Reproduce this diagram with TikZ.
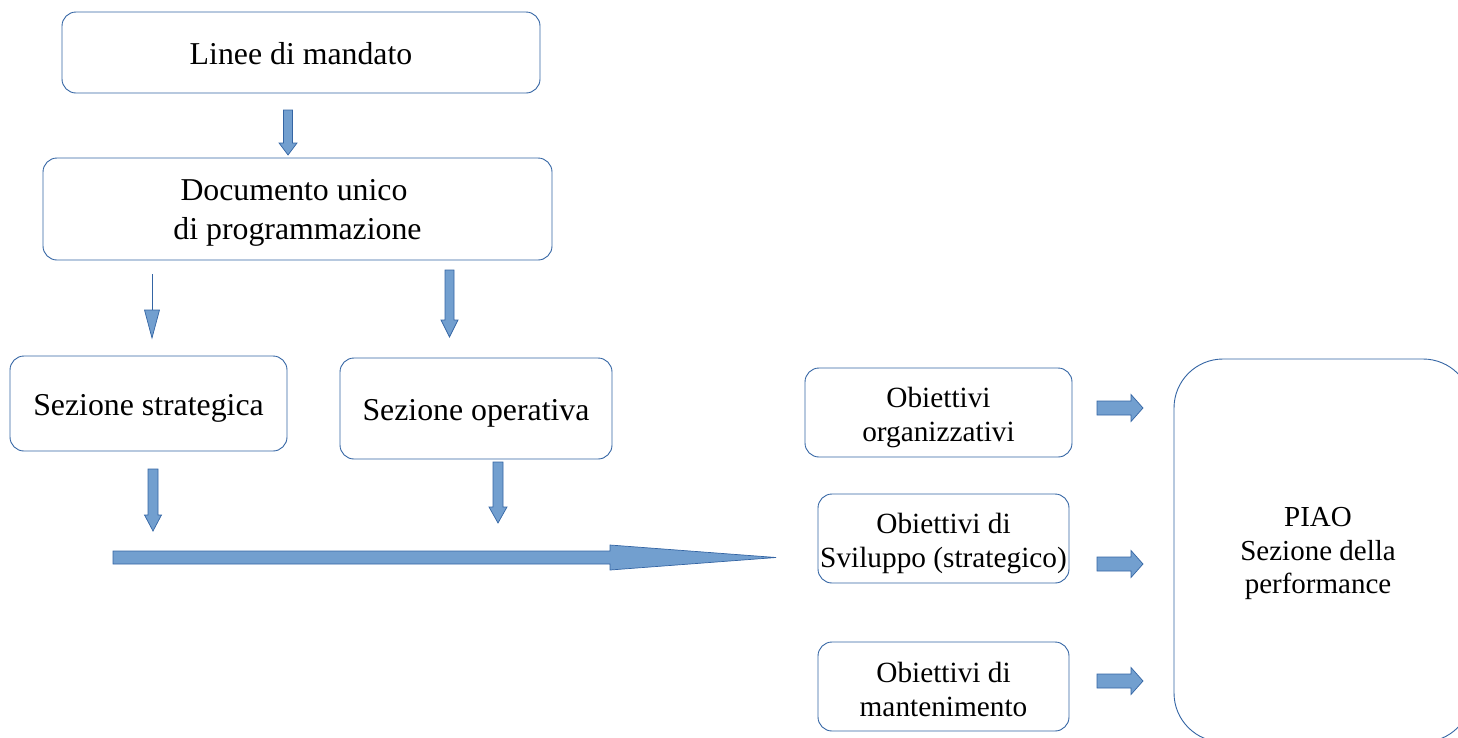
\documentclass[tikz,border=0pt]{standalone}
\usepackage{fontspec}
\setmainfont{Liberation Serif}
\definecolor{boxline}{HTML}{3465A4}
\definecolor{arrfill}{HTML}{729FCF}
\tikzset{
  box/.style={draw=boxline, line width=0.9pt, rounded corners=14pt, inner sep=0pt, fill=white},
  txt/.style={align=center, inner sep=0pt},
  bigtxt/.style={txt, font=\fontsize{31.8}{39}\selectfont},
  midtxt/.style={txt, font=\fontsize{29.3}{34}\selectfont},
  piaotxt/.style={txt, font=\fontsize{29}{33.5}\selectfont},
  barrow/.style={draw=boxline, line width=0.7pt, fill=arrfill, line join=miter},
}
\newcommand{\varrow}[6]{% x, ytop, yheadbase, ytip, shaft half width, head half width
  \draw[barrow] ({#1-#5},#2) -- ({#1+#5},#2) -- ({#1+#5},#3) -- ({#1+#6},#3) -- (#1,#4) -- ({#1-#6},#3) -- ({#1-#5},#3) -- cycle;}
\newcommand{\harrow}[6]{% y, xleft, xheadbase, xtip, shaft half width, head half width
  \draw[barrow] (#2,{#1-#5}) -- (#3,{#1-#5}) -- (#3,{#1-#6}) -- (#4,#1) -- (#3,{#1+#6}) -- (#3,{#1+#5}) -- (#2,{#1+#5}) -- cycle;}
\begin{document}
\begin{tikzpicture}[x=1pt,y=-1pt]
\useasboundingbox (0,0) rectangle (1458,737);
\clip (0,0) rectangle (1458,737);
% boxes
\node[box, minimum width=478pt, minimum height=81pt] (linee) at (301,52.5) {};
\node[bigtxt, yshift=-1.5pt] (linee-t) at (linee.center) {Linee di mandato};
\node[box, minimum width=509pt, minimum height=102pt] (dup) at (297.5,209) {};
\node[bigtxt, yshift=-3.5pt] (dup-t) at (dup.center) {Documento unico\hspace*{7pt}\\ di programmazione};
\node[box, minimum width=277pt, minimum height=95pt] (strat) at (148.5,403.5) {};
\node[bigtxt, yshift=-4.5pt] (strat-t) at (strat.center) {Sezione strategica};
\node[box, minimum width=272pt, minimum height=101pt] (oper) at (476,408.5) {};
\node[bigtxt, yshift=-4.5pt] (oper-t) at (oper.center) {Sezione operativa};
\node[box, minimum width=267pt, minimum height=89pt] (org) at (938.5,412.5) {};
\node[midtxt, yshift=-4.5pt] (org-t) at (org.center) {Obiettivi\\organizzativi};
\node[box, minimum width=251pt, minimum height=89pt] (svil) at (943.5,538.5) {};
\node[midtxt, yshift=-4.5pt] (svil-t) at (svil.center) {Obiettivi di\\Sviluppo (strategico)};
\node[box, minimum width=251pt, minimum height=89pt] (mant) at (943.5,686.5) {};
\node[midtxt, yshift=-2.5pt] (mant-t) at (mant.center) {Obiettivi di\\mantenimento};
\node[box, rounded corners=49pt, minimum width=298pt, minimum height=383pt] (piao) at (1323,550.5) {};
\node[piaotxt, xshift=-5pt, yshift=-3pt] (piao-t) at (piao.center) {PIAO\\Sezione della\\ performance};
% block arrows
\varrow{288}{110}{143}{155}{4.5}{9}
\varrow{449.5}{270}{320}{337}{4.5}{8.5}
\varrow{153}{469}{515}{531}{5}{8.5}
\varrow{498}{462}{507}{523}{5}{9}
\harrow{557.5}{113}{610}{776}{6.5}{12.5}
\harrow{408}{1097}{1131}{1143}{7}{13.5}
\harrow{564}{1097}{1131}{1143}{7}{13.5}
\harrow{681}{1097}{1131}{1143}{7}{13.5}
% thin arrow
\coordinate (t1) at (152,274);
\coordinate (t2) at (152,310);
\draw[boxline, line width=0.9pt] (t1) -- (t2);
\draw[barrow] (144.5,310) -- (159.5,310) -- (152,338) -- cycle;
\end{tikzpicture}
\end{document}
